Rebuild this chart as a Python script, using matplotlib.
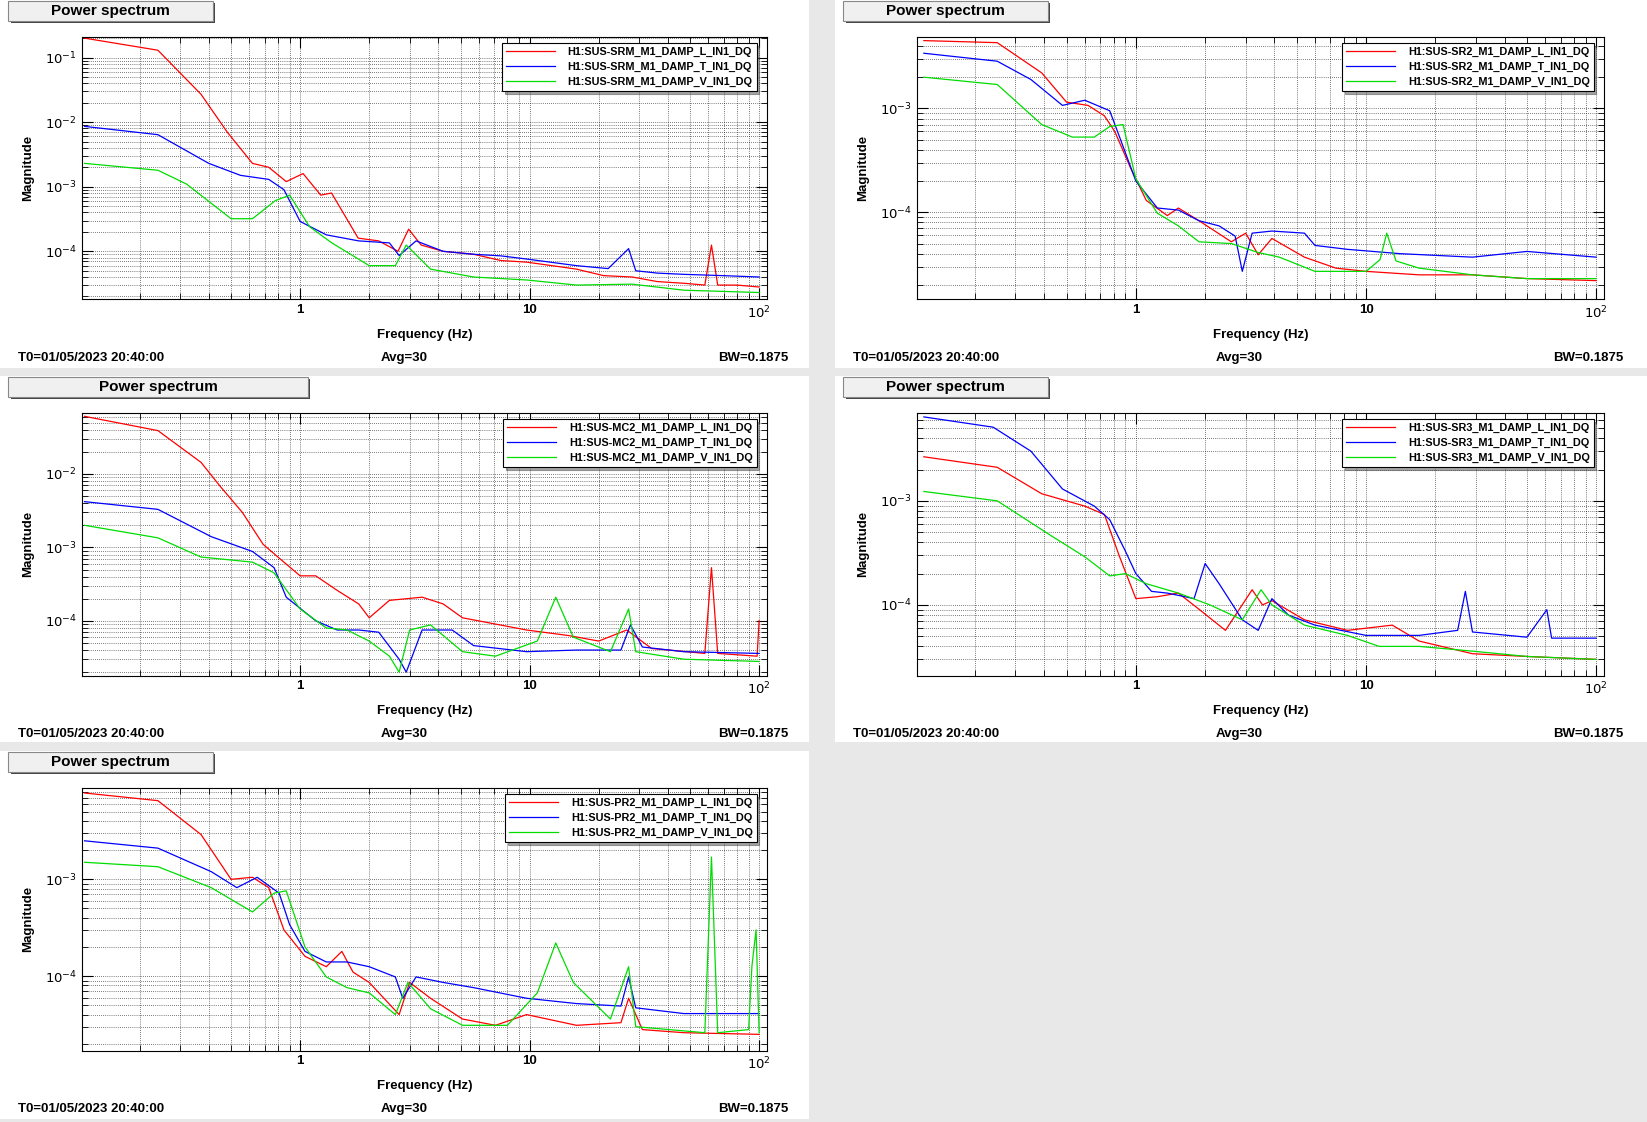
import numpy as np
import matplotlib.pyplot as plt
from matplotlib.patches import Rectangle
from matplotlib.ticker import LogLocator, NullFormatter, FixedLocator, FixedFormatter

plt.rcParams['font.family'] = ['Liberation Sans', 'DejaVu Sans']

# ---- data: (frequency Hz, magnitude) ----
srm_L_f = [0.115, 0.24, 0.37, 0.48, 0.62, 0.73, 0.87, 1.03, 1.23, 1.37, 1.79, 2.2, 2.67, 2.97, 3.37, 4.2, 5.7, 7.5, 9.7, 12.5, 16, 21, 28, 36, 47, 58, 62, 66, 80, 100]
srm_L_v = [0.2, 0.13, 0.027, 0.0071, 0.0023, 0.002, 0.0012, 0.0016, 7.4e-4, 8e-4, 1.6e-4, 1.45e-4, 1e-4, 2.2e-4, 1.25e-4, 1.0e-4, 9e-5, 7.2e-5, 6.8e-5, 6.0e-5, 5.3e-5, 4.2e-5, 4e-5, 3.4e-5, 3.2e-5, 3.0e-5, 1.25e-4, 3.0e-5, 3e-5, 2.8e-5]
srm_T_f = [0.115, 0.24, 0.4, 0.55, 0.73, 0.85, 1.0, 1.3, 1.8, 2.45, 2.7, 3.2, 4.2, 5.7, 7.5, 9.7, 16, 22, 27, 29, 36, 47, 70, 100]
srm_T_v = [0.0086, 0.0064, 0.0023, 0.0015, 0.0013, 9e-4, 2.9e-4, 1.8e-4, 1.45e-4, 1.35e-4, 8.6e-5, 1.45e-4, 1.0e-4, 9e-5, 8.5e-5, 7.6e-5, 6e-5, 5.4e-5, 1.1e-4, 5e-5, 4.6e-5, 4.4e-5, 4.2e-5, 4e-5]
srm_V_f = [0.115, 0.24, 0.32, 0.5, 0.62, 0.78, 0.9, 1.1, 1.37, 2.0, 2.6, 2.9, 3.7, 5.7, 9.7, 16, 28, 47, 100]
srm_V_v = [0.0023, 0.0018, 0.0011, 3.2e-4, 3.2e-4, 6.1e-4, 7.4e-4, 2.4e-4, 1.36e-4, 6e-5, 6e-5, 1.25e-4, 5.3e-5, 4e-5, 3.6e-5, 3e-5, 3.1e-5, 2.5e-5, 2.3e-5]

sr2_L_f = [0.12, 0.25, 0.39, 0.5, 0.62, 0.73, 0.81, 0.95, 1.11, 1.37, 1.53, 1.88, 2.6, 3.0, 3.4, 3.9, 5.4, 7.4, 10, 17, 29, 50, 100]
sr2_L_v = [4.5e-3, 4.3e-3, 2.2e-3, 1.15e-3, 1.07e-3, 8.5e-4, 6e-4, 2.65e-4, 1.3e-4, 9.3e-5, 1.1e-4, 8.3e-5, 5.2e-5, 6.3e-5, 3.9e-5, 5.6e-5, 3.7e-5, 2.9e-5, 2.7e-5, 2.5e-5, 2.5e-5, 2.3e-5, 2.2e-5]
sr2_T_f = [0.12, 0.25, 0.35, 0.48, 0.6, 0.77, 0.85, 1.0, 1.24, 1.53, 1.88, 2.3, 2.7, 2.9, 3.2, 3.9, 5.4, 6.0, 8.3, 14, 29, 50, 100]
sr2_T_v = [3.4e-3, 2.85e-3, 1.9e-3, 1.07e-3, 1.2e-3, 9.5e-4, 5.3e-4, 2e-4, 1.1e-4, 1.05e-4, 8.3e-5, 7.4e-5, 5.9e-5, 2.7e-5, 6.3e-5, 6.6e-5, 6.3e-5, 4.8e-5, 4.4e-5, 4e-5, 3.7e-5, 4.2e-5, 3.7e-5]
sr2_V_f = [0.12, 0.25, 0.39, 0.53, 0.66, 0.77, 0.88, 1.0, 1.24, 1.53, 1.88, 2.6, 3.4, 4.2, 6.0, 10, 11.5, 12.3, 13.5, 17, 29, 50, 100]
sr2_V_v = [2e-3, 1.7e-3, 7e-4, 5.3e-4, 5.3e-4, 6.7e-4, 7e-4, 2.1e-4, 9.8e-5, 7.4e-5, 5.2e-5, 5e-5, 4.1e-5, 3.7e-5, 2.7e-5, 2.7e-5, 3.5e-5, 6.3e-5, 3.4e-5, 2.9e-5, 2.5e-5, 2.3e-5, 2.3e-5]

mc2_L_f = [0.115, 0.24, 0.37, 0.45, 0.56, 0.69, 0.85, 1.0, 1.17, 1.45, 1.8, 2.0, 2.45, 3.4, 4.2, 5.1, 6.3, 9.7, 14.8, 20, 26.5, 34, 58, 62, 66, 98, 100]
mc2_L_v = [0.061, 0.039, 0.0144, 6.7e-3, 3e-3, 1.1e-3, 6.3e-4, 4.1e-4, 4.1e-4, 2.6e-4, 1.7e-4, 1.1e-4, 1.9e-4, 2.1e-4, 1.7e-4, 1.1e-4, 9.7e-5, 7.5e-5, 6.3e-5, 5.3e-5, 7.5e-5, 4.2e-5, 3.6e-5, 5.3e-4, 3.6e-5, 3.3e-5, 1e-4]
mc2_T_f = [0.115, 0.24, 0.41, 0.62, 0.77, 0.87, 1.17, 1.45, 1.8, 2.2, 2.7, 2.9, 3.4, 4.6, 5.7, 9.7, 16, 25, 27.5, 31, 47, 100]
mc2_T_v = [4.2e-3, 3.3e-3, 1.4e-3, 8.8e-4, 5.3e-4, 2.1e-4, 1e-4, 7.5e-5, 7.5e-5, 7e-5, 3e-5, 2e-5, 7.5e-5, 7.5e-5, 4.6e-5, 3.8e-5, 4e-5, 4e-5, 8.8e-5, 4.4e-5, 3.8e-5, 3.6e-5]
mc2_V_f = [0.115, 0.24, 0.37, 0.62, 0.77, 1.0, 1.3, 1.6, 2.0, 2.45, 2.7, 3.0, 3.7, 5.1, 7.1, 10.8, 13, 15.5, 22.5, 27, 29, 47, 100]
mc2_V_v = [2e-3, 1.35e-3, 7.4e-4, 6.3e-4, 4.5e-4, 1.45e-4, 8e-5, 7.5e-5, 5.3e-5, 3.3e-5, 2e-5, 7.5e-5, 8.8e-5, 3.8e-5, 3.3e-5, 5.3e-5, 2.1e-4, 6e-5, 3.8e-5, 1.45e-4, 3.8e-5, 3e-5, 2.8e-5]

sr3_L_f = [0.12, 0.25, 0.39, 0.6, 0.73, 0.85, 1.0, 1.24, 1.53, 1.88, 2.45, 3.2, 3.55, 3.9, 5.4, 8.3, 13, 17, 29, 50, 100]
sr3_L_v = [2.65e-3, 2.1e-3, 1.17e-3, 8.9e-4, 7.4e-4, 2.9e-4, 1.15e-4, 1.2e-4, 1.3e-4, 9.1e-5, 5.7e-5, 1.4e-4, 1e-4, 1.1e-4, 7.2e-5, 5.7e-5, 6.4e-5, 4.5e-5, 3.4e-5, 3.2e-5, 3e-5]
sr3_T_f = [0.12, 0.24, 0.35, 0.48, 0.66, 0.77, 0.9, 1.0, 1.17, 1.37, 1.79, 2.0, 2.3, 2.9, 3.4, 3.9, 4.6, 6.0, 10, 17, 25, 27, 29, 50, 61, 64, 100]
sr3_T_v = [6.4e-3, 5.1e-3, 3e-3, 1.3e-3, 8.9e-4, 6.6e-4, 3.3e-4, 2e-4, 1.35e-4, 1.3e-4, 1.15e-4, 2.5e-4, 1.6e-4, 7.2e-5, 5.7e-5, 1.15e-4, 8e-5, 6.4e-5, 5.1e-5, 5.1e-5, 5.7e-5, 1.35e-4, 5.5e-5, 4.9e-5, 9e-5, 4.8e-5, 4.8e-5]
sr3_V_f = [0.12, 0.25, 0.43, 0.6, 0.77, 0.9, 1.11, 1.53, 2.1, 2.9, 3.5, 3.9, 5.4, 8.3, 11.4, 17, 29, 50, 100]
sr3_V_v = [1.23e-3, 1e-3, 4.6e-4, 2.9e-4, 1.9e-4, 2e-4, 1.6e-4, 1.3e-4, 1e-4, 7.2e-5, 1.4e-4, 1e-4, 6.4e-5, 5.1e-5, 4e-5, 4e-5, 3.6e-5, 3.2e-5, 3e-5]

pr2_L_f = [0.115, 0.24, 0.37, 0.5, 0.62, 0.73, 0.85, 1.05, 1.3, 1.52, 1.7, 2.0, 2.7, 3.0, 3.7, 5.1, 7.1, 9.7, 16, 25, 27, 31, 47, 100]
pr2_L_v = [7.8e-3, 6.5e-3, 2.9e-3, 1e-3, 1.05e-3, 8.2e-4, 3e-4, 1.6e-4, 1.25e-4, 1.8e-4, 1.1e-4, 8.6e-5, 4e-5, 8.6e-5, 5.9e-5, 3.6e-5, 3.1e-5, 4e-5, 3.1e-5, 3.3e-5, 5.9e-5, 2.8e-5, 2.6e-5, 2.5e-5]
pr2_T_f = [0.115, 0.24, 0.41, 0.53, 0.65, 0.81, 0.9, 1.05, 1.3, 1.6, 2.0, 2.6, 2.8, 3.2, 4.2, 5.7, 9.7, 16, 25, 27, 29, 47, 100]
pr2_T_v = [2.5e-3, 2.1e-3, 1.2e-3, 8.2e-4, 1.05e-3, 7.2e-4, 3.4e-4, 1.8e-4, 1.4e-4, 1.4e-4, 1.25e-4, 9.8e-5, 5.9e-5, 9.8e-5, 8.6e-5, 7.6e-5, 5.9e-5, 5.2e-5, 4.9e-5, 9.8e-5, 4.7e-5, 4.1e-5, 4.1e-5]
pr2_V_f = [0.115, 0.24, 0.41, 0.62, 0.77, 0.87, 1.05, 1.3, 1.6, 2.0, 2.6, 2.95, 3.7, 5.1, 8.0, 10.8, 13, 15.5, 22.5, 27, 29, 58, 62, 66, 90, 93, 97, 100]
pr2_V_v = [1.5e-3, 1.35e-3, 8.2e-4, 4.6e-4, 7.2e-4, 7.6e-4, 2e-4, 9.8e-5, 7.6e-5, 6.7e-5, 4e-5, 8.6e-5, 4.6e-5, 3.1e-5, 3.1e-5, 6.7e-5, 2.2e-4, 8.6e-5, 3.6e-5, 1.25e-4, 3.0e-5, 2.6e-5, 1.7e-3, 2.6e-5, 2.8e-5, 1.25e-4, 3e-4, 2.6e-5]

panels = [
    ("SRM", (srm_L_f, srm_L_v), (srm_T_f, srm_T_v), (srm_V_f, srm_V_v), (1.8e-5, 0.21), [1e-4, 1e-3, 1e-2, 1e-1]),
    ("SR2", (sr2_L_f, sr2_L_v), (sr2_T_f, sr2_T_v), (sr2_V_f, sr2_V_v), (1.45e-5, 4.9e-3), [1e-4, 1e-3]),
    ("MC2", (mc2_L_f, mc2_L_v), (mc2_T_f, mc2_T_v), (mc2_V_f, mc2_V_v), (1.8e-5, 0.068), [1e-4, 1e-3, 1e-2]),
    ("SR3", (sr3_L_f, sr3_L_v), (sr3_T_f, sr3_T_v), (sr3_V_f, sr3_V_v), (2.1e-5, 7e-3), [1e-4, 1e-3]),
    ("PR2", (pr2_L_f, pr2_L_v), (pr2_T_f, pr2_T_v), (pr2_V_f, pr2_V_v), (1.7e-5, 8.8e-3), [1e-4, 1e-3]),
]
ytick_txt = {1e-4: r'$10^{-4}$', 1e-3: r'$10^{-3}$', 1e-2: r'$10^{-2}$', 1e-1: r'$10^{-1}$'}

W, H = 1568.0, 1068.0
fig = plt.figure(figsize=(16.47, 11.22), dpi=100)
fig.patch.set_facecolor('#e8e8e8')

def fx(px):
    return px / W

def fy(py):
    return 1 - py / H

cols = [(0, 770, 78, 730), (795, 1568, 873, 1527)]
rows = [(0, 350, 35, 285), (358, 706, 393, 643), (715, 1065, 750, 1000)]
title_w = [195, 195, 285, 195, 195]

for i, (name, L, T, V, ylim, yt) in enumerate(panels):
    c0, c1, ax0, ax1 = cols[i % 2]
    r0, r1, ay0, ay1 = rows[i // 2]
    fig.patches.append(Rectangle((fx(c0), fy(r1)), fx(c1 - c0), (r1 - r0) / H,
                                 transform=fig.transFigure, facecolor='white', edgecolor='none', zorder=-2))
    ax = fig.add_axes([fx(ax0), fy(ay1), fx(ax1 - ax0), (ay1 - ay0) / H])
    ax.set_zorder(1)
    ax.plot(L[0], L[1], color='#ff0000', lw=0.9, label='H1:SUS-%s_M1_DAMP_L_IN1_DQ' % name)
    ax.plot(T[0], T[1], color='#0000ff', lw=0.9, label='H1:SUS-%s_M1_DAMP_T_IN1_DQ' % name)
    ax.plot(V[0], V[1], color='#00dd00', lw=0.9, label='H1:SUS-%s_M1_DAMP_V_IN1_DQ' % name)
    ax.set_xscale('log')
    ax.set_yscale('log')
    ax.set_xlim(0.112, 108)
    ax.set_ylim(*ylim)
    ax.xaxis.set_major_locator(FixedLocator([1, 10, 100]))
    ax.xaxis.set_major_formatter(FixedFormatter(['1', '10', r'$10^{2}$']))
    ax.xaxis.set_minor_locator(LogLocator(subs=np.arange(2, 10)))
    ax.xaxis.set_minor_formatter(NullFormatter())
    ax.yaxis.set_major_locator(FixedLocator(yt))
    ax.yaxis.set_major_formatter(FixedFormatter([ytick_txt[t] for t in yt]))
    ax.yaxis.set_minor_locator(LogLocator(subs=np.arange(2, 10)))
    ax.yaxis.set_minor_formatter(NullFormatter())
    ax.tick_params(which='both', direction='in', top=True, right=True, labelsize=9.5)
    ax.tick_params(which='major', length=8)
    ax.tick_params(which='minor', length=4)
    ax.grid(True, which='both', color='black', ls=(0, (1, 2)), lw=0.5)
    for lab in ax.get_xticklabels() + ax.get_yticklabels():
        lab.set_fontweight('bold')
    ax.set_xlabel('Frequency (Hz)', fontsize=9.5, fontweight='bold', labelpad=6)
    ax.set_ylabel('Magnitude', fontsize=9.5, fontweight='bold', labelpad=8)
    leg = ax.legend(loc='upper right', bbox_to_anchor=(0.985, 0.975), fancybox=False, shadow=True,
                    edgecolor='black', framealpha=1, borderaxespad=0, handlelength=4.5,
                    handletextpad=1.2, borderpad=0.35, labelspacing=0.45,
                    prop={'weight': 'bold', 'size': 7.8})
    leg.get_frame().set_linewidth(0.8)
    # title box
    tw = title_w[i]
    fig.patches.append(Rectangle((fx(c0 + 10), fy(r0 + 22)), fx(tw), 19 / H, transform=fig.transFigure,
                                 facecolor='#444444', edgecolor='none', zorder=1))
    fig.patches.append(Rectangle((fx(c0 + 8), fy(r0 + 20)), fx(tw), 19 / H, transform=fig.transFigure,
                                 facecolor='#f0f0f0', edgecolor='#888888', lw=0.8, zorder=2))
    fig.text(fx(c0 + 8 + tw / 2), fy(r0 + 10.5), 'Power spectrum', ha='center', va='center',
             fontsize=11, fontweight='bold', zorder=3)
    # footer
    yb = fy(r0 + 341)
    fig.text(fx(c0 + 17), yb, 'T0=01/05/2023 20:40:00', fontsize=9.5, fontweight='bold', va='center')
    fig.text(fx(c0 + 362), yb, 'Avg=30', fontsize=9.5, fontweight='bold', va='center')
    fig.text(fx(c0 + 684), yb, 'BW=0.1875', fontsize=9.5, fontweight='bold', va='center')

fig.savefig('out.png', dpi=100, facecolor=fig.get_facecolor())
